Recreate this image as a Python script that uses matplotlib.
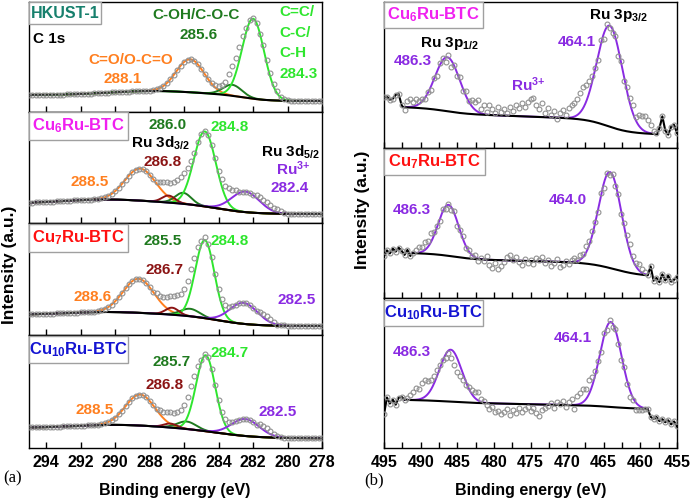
import numpy as np
import matplotlib.pyplot as plt
from matplotlib.patches import Rectangle

plt.rcParams['font.family'] = ['Liberation Sans', 'DejaVu Sans']
plt.rcParams['font.weight'] = 'bold'
plt.rcParams['mathtext.fontset'] = 'custom'
plt.rcParams['mathtext.rm'] = 'Liberation Sans:bold'
plt.rcParams['mathtext.it'] = 'Liberation Sans:bold'
plt.rcParams['mathtext.bf'] = 'Liberation Sans:bold'

ORANGE = '#ff7f1f'
DKGREEN = '#1f7a1f'
GREEN = '#2ee62e'
BROWN = '#8b1414'
PURPLE = '#8a2be2'
TEAL = '#17806d'
MAGENTA = '#f020f0'
RED = '#ff1010'
BLUE = '#1414d2'

# ---------------- panel (a): C 1s ----------------
c1s_names = ['HKUST-1', 'Cu$_6$Ru-BTC', 'Cu$_7$Ru-BTC', 'Cu$_{10}$Ru-BTC']
c1s_colors = [TEAL, MAGENTA, RED, BLUE]
# fitted peaks (centre eV, height, fwhm)
c1s_oco = [(285.65, 33, 1.9), (288.55, 32, 2.1), (288.65, 34, 2.1), (288.55, 31, 2.0)]
c1s_coh = [(283.2, 11, 1.3), (286.05, 11, 1.1), (285.65, 7.5, 1.3), (285.85, 7.5, 1.3)]
c1s_cc = [(282.0, 80, 1.5), (284.8, 75, 1.5), (284.8, 78, 1.3), (284.75, 76, 1.3)]
c1s_ru32 = [None, (286.9, 7, 0.9), (286.7, 7, 0.9), (286.8, 4, 0.9)]
c1s_ru52 = [None, (282.45, 20.5, 1.9), (282.55, 21, 1.9), (282.45, 17, 1.9)]
# background (low level, step, step centre, step width, hump centre, hump height, hump fwhm)
c1s_bg = [(11, 6, 282.5, 0.7, 287.8, 4, 6),
          (9, 10.5, 284.0, 1.0, 290.5, 4, 6),
          (9, 11, 284.0, 1.0, 290.5, 3, 6),
          (9.7, 10.5, 284.0, 1.2, 290.0, 3, 5.5)]
# measured points that sit off the fit envelope (eV: offset)
c1s_dev = [
    {283.4: 3, 283.2: 5, 283.0: 5, 282.8: 5, 282.6: 4, 281.4: 3, 281.2: 4, 281.0: 4, 280.8: 3, 280.6: 2},
    {287.4: 3, 287.2: 4, 287.0: 5, 286.8: 5, 286.6: 6, 286.4: 7, 286.2: 7, 286.0: 6, 285.8: 4, 285.6: 2,
     283.8: 3, 283.6: 4, 283.4: 5, 283.2: 4, 283.0: 3, 281.8: 3, 281.6: 4, 281.4: 4, 281.2: 5, 281.0: 4,
     280.8: 3, 280.6: 3, 280.4: 2},
    {287.6: 3, 287.4: 4, 287.2: 5, 287.0: 6, 286.8: 7, 286.6: 8, 286.4: 9, 286.2: 10, 286.0: 11, 285.8: 12,
     285.6: 12, 285.4: 9, 285.2: 5, 281.6: 3, 281.4: 4, 281.2: 4, 281.0: 3, 280.8: 2},
    {287.4: 3, 287.2: 4, 287.0: 5, 286.8: 6, 286.6: 6, 286.4: 7, 286.2: 8, 286.0: 10, 285.8: 12, 285.6: 13,
     285.4: 10, 285.2: 6, 281.6: 3, 281.4: 4, 281.2: 4, 281.0: 3, 280.8: 2},
]

# ---------------- panel (b): Ru 3p ----------------
ru3p_names = ['Cu$_6$Ru-BTC', 'Cu$_7$Ru-BTC', 'Cu$_{10}$Ru-BTC']
ru3p_colors = [MAGENTA, RED, BLUE]
ru3p_12 = [(486.35, 54, 4.0), (486.2, 51, 3.3), (485.9, 52, 3.6)]
ru3p_32 = [(464.2, 101, 4.1), (464.15, 96, 3.7), (464.05, 85, 3.5)]
# background (low level, slope, step1, c1, w1, step2, c2, w2)
ru3p_bg = [(13, 0.26, 5, 486.5, 1.5, 13.2, 464.5, 1.5),
           (21, 0.18, 5.1, 485.5, 1.5, 12.4, 463.5, 1.8),
           (38.5, 0.15, 1.8, 486.0, 1.5, 2.3, 464.0, 1.5)]
ru3p_fit = [(492.4, 457.7), (491.2, 459.0), (492.2, 459.0)]
# deviation of measured points from the fit, 495 -> 455 eV every 0.4 eV
ru3p_dev = [
    [9, 10, 7, 8, 12, 13, 2, -3, 6, 8,
     4, 6, 3, 2, -1, 1, -3, 2, -4, 3,
     2, -4, 3, -6, 1, -3, 4, -2, 5, 1, 6,
     8, 12, 4, 9, 3, 10, 6, 2, 8, 4,
     7, 3, 9, 5, 11, 8, 13, 9, 15, 18,
     19, 12, 8, 14, 4, 9, 2, 7, -1, 5,
     8, 3, 10, 12, 14, 16, 19, 21, 17, 12,
     6, 2, -3, 4, -5, 3, -2, -4, 2, -6,
     3, -2, 5, 6, 9, 4, 11, 13, 15, 12,
     8, 3, 1, 6, 18, 4, 0, 8, 10, 2],
    [-4, 2, -1, 4, 1, 5, 2, -2, 3, -3,
     0, 3, 6, 5, 8, 6, 9, 4, 2, -2,
     3, -2, 1, -3, 2, -4, 1, 3, -2, 2, -1,
     2, -3, 1, -2, 4, -5, -8, -3, -9, -6,
     -2, 3, 5, 1, 4, -1, -4, 2, -2, 1,
     -3, 3, 1, 4, -2, 2, -4, -1, 3, -5,
     -3, 1, -2, 2, 4, 1, 5, 3, 6, 4,
     5, 2, -2, 3, -4, 2, -3, 1, -2, 3,
     -2, 4, 6, 8, 5, 3, 6, 4, 2, 0,
     9, -5, -2, -6, 2, -4, 1, -5, -3, 0],
    [-15, 2, -4, 0, -5, 2, 3, 0, 2, 5,
     8, 12, 10, 15, 17, 13, 10, 8, 7, 4,
     1, -3, -2, -8, -12, -14, -10, -6, -3, 2, 4,
     6, 8, 3, 1, -2, -6, -4, -9, -7, -10,
     -8, -5, -11, -6, -9, -4, -8, -5, -3, -7,
     -4, -9, -12, -6, -3, -1, 2, -3, 3, 1,
     4, -2, 3, 6, -4, 8, 11, 13, 10, 14,
     9, 5, 3, -2, 4, -3, 2, -4, 1, -3,
     -5, 2, -3, -6, -2, -7, -4, -3, -1, 0,
     -8, -10, -8, -12, -10, -13, -11, -15, -12, -17],
]

# annotations (pixel x, pixel y, text, colour, alignment)
notes = [
    (33, 39, 'C 1s', 'black', 'left'),
    (131, 60, 'C=O/O-C=O', ORANGE, 'center'),
    (123, 79, '288.1', ORANGE, 'center'),
    (196, 15, 'C-OH/C-O-C', DKGREEN, 'center'),
    (199, 35, '285.6', DKGREEN, 'center'),
    (279, 12, 'C=C/', GREEN, 'left'),
    (279, 33, 'C-C/', GREEN, 'left'),
    (279, 53, 'C-H', GREEN, 'left'),
    (279, 74, '284.3', GREEN, 'left'),
    (168, 125, '286.0', DKGREEN, 'center'),
    (230, 127, '284.8', GREEN, 'center'),
    (160, 143, 'Ru 3d$_{3/2}$', 'black', 'center'),
    (163, 162, '286.8', BROWN, 'center'),
    (90, 182, '288.5', ORANGE, 'center'),
    (290, 152, 'Ru 3d$_{5/2}$', 'black', 'center'),
    (293, 169, 'Ru$^{3{+}}$', PURPLE, 'center'),
    (290, 188, '282.4', PURPLE, 'center'),
    (163, 241, '285.5', DKGREEN, 'center'),
    (230, 241, '284.8', GREEN, 'center'),
    (165, 270, '286.7', BROWN, 'center'),
    (93, 297, '288.6', ORANGE, 'center'),
    (297, 300, '282.5', PURPLE, 'center'),
    (172, 362, '285.7', DKGREEN, 'center'),
    (230, 353, '284.7', GREEN, 'center'),
    (165, 385, '286.8', BROWN, 'center'),
    (95, 410, '288.5', ORANGE, 'center'),
    (278, 412, '282.5', PURPLE, 'center'),
    (449, 43, 'Ru 3p$_{1/2}$', 'black', 'center'),
    (413, 61, '486.3', PURPLE, 'center'),
    (618, 15, 'Ru 3p$_{3/2}$', 'black', 'center'),
    (577, 42, '464.1', PURPLE, 'center'),
    (528, 85, 'Ru$^{3{+}}$', PURPLE, 'center'),
    (412, 210, '486.3', PURPLE, 'center'),
    (568, 200, '464.0', PURPLE, 'center'),
    (412, 352, '486.3', PURPLE, 'center'),
    (573, 338, '464.1', PURPLE, 'center'),
]

W, H = 692, 500
a_rows = [(2, 112), (112, 223), (223, 335), (335, 448)]
b_rows = [(2, 148), (148, 298), (298, 448)]
a_boxes = [(29, 2, 101, 24), (29, 112, 128, 140), (29, 224, 128, 252), (29, 336, 128, 363)]
b_boxes = [(384, 2, 483, 28), (384, 149, 485, 175), (384, 300, 483, 326)]


def gauss(e, peak):
    c, h, fwhm = peak
    s = fwhm / 2.355
    return h * np.exp(-(e - c) ** 2 / (2 * s * s))


def step(x):
    return 1 / (1 + np.exp(-x))


def c1s_background(e, p):
    low, st, c, w, hc, hh, hw = p
    return low + st * step((e - c) / w) + gauss(e, (hc, hh, hw))


def ru_background(e, p):
    low, slope, s1, c1, w1, s2, c2, w2 = p
    return low + slope * (e - 455) + s1 * step((e - c1) / w1) + s2 * step((e - c2) / w2)


def rect(x0, y0, x1, y1):
    return [x0 / W, 1 - y1 / H, (x1 - x0) / W, (y1 - y0) / H]


def box(fig, b, text, color, size):
    x0, y0, x1, y1 = b
    fig.add_artist(Rectangle((x0 / W, 1 - y1 / H), (x1 - x0) / W, (y1 - y0) / H,
                             transform=fig.transFigure, fc='white', ec='#a0a0a0', lw=1))
    fig.text((x0 + x1) / 2 / W, 1 - (y0 + y1) / 2 / H, text, color=color, fontsize=size,
             fontweight='bold', ha='center', va='center')


def style(ax, bottom_labels):
    ax.set_yticks([])
    for s in ax.spines.values():
        s.set_linewidth(1)
    ax.tick_params(axis='x', which='both', direction='in', length=4, width=1,
                   labelsize=11.5, pad=5, labelbottom=bottom_labels)


pt_style = dict(ls='none', marker='o', ms=3.5, mfc='none', mec='#909090', mew=0.8, zorder=3)

fig = plt.figure(figsize=(6.92, 5), dpi=100)

# panel (a)
e_dense = np.linspace(295, 278, 700)
e_pts = np.round(np.arange(295, 277.99, -0.2), 1)
for i, (top, bot) in enumerate(a_rows):
    ax = fig.add_axes(rect(29, top, 322, bot))
    comps = [(c1s_oco[i], ORANGE), (c1s_coh[i], DKGREEN), (c1s_cc[i], GREEN),
             (c1s_ru32[i], BROWN), (c1s_ru52[i], PURPLE)]
    comps = [(p, col) for p, col in comps if p is not None]
    bg_d = c1s_background(e_dense, c1s_bg[i])
    pts = c1s_background(e_pts, c1s_bg[i]) + sum(gauss(e_pts, p) for p, _ in comps)
    for e, d in c1s_dev[i].items():
        pts[np.argmin(np.abs(e_pts - e))] += d
    for p, col in comps:
        ax.plot(e_dense, bg_d + gauss(e_dense, p), color=col, lw=1.4)
    ax.plot(e_dense, bg_d, color='black', lw=1.5)
    ax.plot(e_pts, pts, **pt_style)
    ax.set_xlim(295, 278)
    ax.set_ylim(0, bot - top)
    ax.set_xticks(np.arange(294, 277, -2))
    style(ax, i == len(a_rows) - 1)
    box(fig, a_boxes[i], c1s_names[i], c1s_colors[i], 11.5 if i == 0 else 12)

# panel (b)
e_dense_b = np.linspace(495, 455, 800)
e_pts_b = np.round(np.arange(495, 454.99, -0.4), 1)
for i, (top, bot) in enumerate(b_rows):
    ax = fig.add_axes(rect(384, top, 677, bot))
    hi, lo = ru3p_fit[i]
    pts = (ru_background(e_pts_b, ru3p_bg[i]) + gauss(e_pts_b, ru3p_12[i])
           + gauss(e_pts_b, ru3p_32[i]) + np.array(ru3p_dev[i]))
    ef = e_dense_b[(e_dense_b <= hi) & (e_dense_b >= lo)]
    bgf = ru_background(ef, ru3p_bg[i])
    env = bgf + gauss(ef, ru3p_12[i]) + gauss(ef, ru3p_32[i])
    left = e_pts_b > hi
    right = e_pts_b < lo
    line_e = np.concatenate([e_pts_b[left], ef, e_pts_b[right]])
    line_y = np.concatenate([pts[left], bgf, pts[right]])
    ax.plot(ef, env, color=PURPLE, lw=1.4)
    ax.plot(line_e, line_y, color='black', lw=1.5)
    ax.plot(e_pts_b, pts, **pt_style)
    ax.set_xlim(495, 455)
    ax.set_ylim(0, bot - top)
    ax.set_xticks(np.arange(495, 454, -5))
    ax.set_xticks(np.arange(492.5, 455, -5), minor=True)
    style(ax, i == len(b_rows) - 1)
    box(fig, b_boxes[i], ru3p_names[i], ru3p_colors[i], 12)

for x, y, s, col, ha in notes:
    fig.text(x / W, 1 - y / H, s, color=col, fontsize=11, fontweight='bold', ha=ha, va='center')

fig.text(10 / W, 1 - 265 / H, 'Intensity (a.u.)', rotation=90, fontsize=12.5,
         fontweight='bold', ha='center', va='center')
fig.text(363 / W, 1 - 210 / H, 'Intensity (a.u.)', rotation=90, fontsize=12.5,
         fontweight='bold', ha='center', va='center')
fig.text(175 / W, 1 - 490 / H, 'Binding energy (eV)', fontsize=11.5, fontweight='bold',
         ha='center', va='center')
fig.text(531 / W, 1 - 490 / H, 'Binding energy (eV)', fontsize=11.5, fontweight='bold',
         ha='center', va='center')
fig.text(13 / W, 1 - 478 / H, '(a)', family=['Liberation Serif'], fontweight='normal',
         fontsize=12, ha='center', va='center')
fig.text(374 / W, 1 - 480 / H, '(b)', family=['Liberation Serif'], fontweight='normal',
         fontsize=12, ha='center', va='center')

fig.savefig('out.png', dpi=100)
